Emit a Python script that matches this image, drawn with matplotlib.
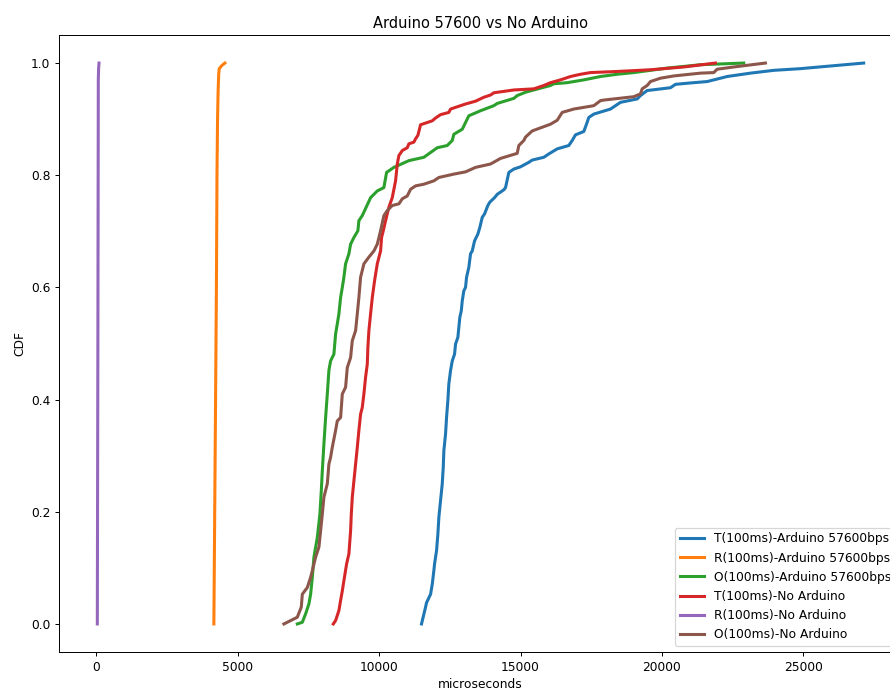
import matplotlib

matplotlib.use("Agg")
import matplotlib.pyplot as plt

# CDF curves: (microseconds, cumulative fraction)
t_ard_x = [11500, 11643, 11678, 11820, 11880, 11936, 11961, 12032, 12078, 12113,
           12173, 12233, 12268, 12290, 12350, 12385, 12431, 12466, 12527, 12587,
           12668, 12703, 12785, 12855, 12905, 12940, 12996, 13056, 13092, 13173,
           13233, 13293, 13375, 13491, 13562, 13647, 13728, 13845, 13915, 14081,
           14177, 14410, 14470, 14587, 14763, 15000, 15293, 15413, 15823, 16000,
           16297, 16707, 16827, 16943, 17237, 17332, 17413, 17590, 18180, 18357,
           18534, 19124, 19240, 19477, 20300, 20477, 20890, 21597, 22304, 23127,
           23951, 24894, 27130]
t_ard_y = [0.000, 0.030, 0.038, 0.053, 0.071, 0.095, 0.107, 0.131, 0.160, 0.190,
           0.220, 0.250, 0.279, 0.309, 0.339, 0.368, 0.398, 0.428, 0.452, 0.469,
           0.481, 0.499, 0.511, 0.547, 0.558, 0.576, 0.594, 0.600, 0.618, 0.636,
           0.660, 0.665, 0.683, 0.695, 0.707, 0.725, 0.731, 0.746, 0.752, 0.760,
           0.766, 0.774, 0.778, 0.805, 0.811, 0.815, 0.823, 0.827, 0.832, 0.838,
           0.847, 0.853, 0.862, 0.872, 0.878, 0.891, 0.903, 0.909, 0.918, 0.924,
           0.930, 0.936, 0.942, 0.951, 0.956, 0.962, 0.964, 0.967, 0.976, 0.982,
           0.987, 0.990, 1.000]

r_ard_x = [4160, 4190, 4220, 4250, 4270, 4290, 4310, 4330, 4350, 4450, 4550]
r_ard_y = [0.00, 0.20, 0.40, 0.60, 0.80, 0.90, 0.95, 0.98, 0.99, 0.996, 1.00]

o_ard_x = [7109, 7286, 7403, 7520, 7580, 7640, 7696, 7816, 7908, 7958,
           7993, 8050, 8110, 8170, 8226, 8286, 8403, 8463, 8523, 8580,
           8640, 8700, 8756, 8816, 8933, 8993, 9110, 9251, 9286, 9406,
           9700, 9936, 10170, 10265, 10523, 11053, 11583, 12056, 12410, 12587,
           12643, 12940, 13173, 13587, 14056, 14177, 14763, 14883, 15177, 15470,
           16060, 16177, 16650, 17237, 17827, 18417, 19003, 19593, 20183, 21360,
           22890]
o_ard_y = [0.000, 0.003, 0.018, 0.036, 0.053, 0.083, 0.119, 0.154, 0.196, 0.238,
           0.273, 0.321, 0.368, 0.410, 0.452, 0.469, 0.481, 0.517, 0.535, 0.553,
           0.582, 0.600, 0.618, 0.642, 0.660, 0.677, 0.689, 0.701, 0.719, 0.728,
           0.760, 0.772, 0.778, 0.805, 0.814, 0.826, 0.832, 0.849, 0.853, 0.862,
           0.873, 0.882, 0.906, 0.915, 0.924, 0.928, 0.937, 0.942, 0.948, 0.952,
           0.960, 0.963, 0.965, 0.970, 0.976, 0.980, 0.983, 0.987, 0.991, 0.997,
           1.000]

t_no_x = [8381, 8463, 8580, 8640, 8700, 8756, 8852, 8933, 8993, 9018,
          9053, 9110, 9170, 9230, 9286, 9346, 9406, 9463, 9523, 9583,
          9604, 9640, 9700, 9760, 9841, 9936, 10053, 10088, 10148, 10230,
          10346, 10466, 10583, 10643, 10700, 10820, 10996, 11053, 11230, 11290,
          11371, 11442, 11466, 11703, 11880, 11996, 12173, 12466, 12527, 12763,
          13056, 13410, 13703, 13940, 14056, 14763, 15470, 15823, 16060, 16413,
          16767, 17120, 17473, 18417, 19593, 20770, 21890]
t_no_y = [0.000, 0.006, 0.024, 0.042, 0.059, 0.077, 0.107, 0.125, 0.166, 0.196,
          0.226, 0.255, 0.285, 0.315, 0.345, 0.374, 0.386, 0.410, 0.440, 0.463,
          0.493, 0.523, 0.553, 0.582, 0.612, 0.642, 0.665, 0.689, 0.701, 0.719,
          0.743, 0.760, 0.790, 0.820, 0.835, 0.844, 0.849, 0.856, 0.859, 0.865,
          0.871, 0.885, 0.890, 0.894, 0.897, 0.902, 0.908, 0.912, 0.918, 0.922,
          0.927, 0.932, 0.939, 0.943, 0.947, 0.952, 0.954, 0.960, 0.965, 0.970,
          0.976, 0.980, 0.983, 0.985, 0.988, 0.993, 1.000]

r_no_x = [40, 50, 60, 68, 75, 85, 100]
r_no_y = [0.00, 0.25, 0.50, 0.75, 0.97, 0.99, 1.00]

o_no_x = [6636, 7109, 7250, 7286, 7463, 7580, 7640, 7756, 7873, 7933,
          7993, 8050, 8170, 8226, 8286, 8346, 8463, 8523, 8640, 8700,
          8816, 8876, 8993, 9053, 9170, 9230, 9286, 9346, 9463, 9640,
          9816, 9936, 10053, 10170, 10290, 10466, 10700, 10820, 10996, 11113,
          11290, 11583, 11936, 12113, 12643, 13056, 13410, 13940, 14293, 14883,
          14940, 15117, 15177, 15413, 16060, 16297, 16473, 16883, 17590, 17827,
          17943, 19003, 19240, 19300, 19477, 19593, 19947, 20417, 21360, 21830,
          21950, 22537, 23657]
o_no_y = [0.000, 0.012, 0.030, 0.053, 0.065, 0.083, 0.095, 0.119, 0.137, 0.166,
          0.196, 0.226, 0.250, 0.285, 0.297, 0.315, 0.345, 0.362, 0.368, 0.410,
          0.422, 0.457, 0.475, 0.505, 0.523, 0.553, 0.582, 0.618, 0.642, 0.654,
          0.665, 0.677, 0.701, 0.728, 0.737, 0.746, 0.749, 0.758, 0.763, 0.775,
          0.781, 0.784, 0.790, 0.796, 0.802, 0.806, 0.814, 0.820, 0.830, 0.839,
          0.853, 0.862, 0.868, 0.879, 0.891, 0.898, 0.912, 0.918, 0.924, 0.933,
          0.934, 0.940, 0.945, 0.954, 0.960, 0.967, 0.973, 0.977, 0.982, 0.983,
          0.989, 0.993, 1.000]

series = [
    ("T(100ms)-Arduino 57600bps", t_ard_x, t_ard_y),
    ("R(100ms)-Arduino 57600bps", r_ard_x, r_ard_y),
    ("O(100ms)-Arduino 57600bps", o_ard_x, o_ard_y),
    ("T(100ms)-No Arduino", t_no_x, t_no_y),
    ("R(100ms)-No Arduino", r_no_x, r_no_y),
    ("O(100ms)-No Arduino", o_no_x, o_no_y),
]

fig = plt.figure(figsize=(890 / 88, 690 / 88), dpi=88)
# axes run past the right edge of the canvas, as in the reference
ax = fig.add_axes([59 / 890, 38 / 690, 843 / 890, 617 / 690])

for label, xs, ys in series:
    ax.plot(xs, ys, linewidth=2.5, label=label)

ax.set_title("Arduino 57600 vs No Arduino")
ax.set_xlabel("microseconds")
ax.set_ylabel("CDF")
ax.legend(loc="lower right")

fig.savefig("out.png", dpi=88)
